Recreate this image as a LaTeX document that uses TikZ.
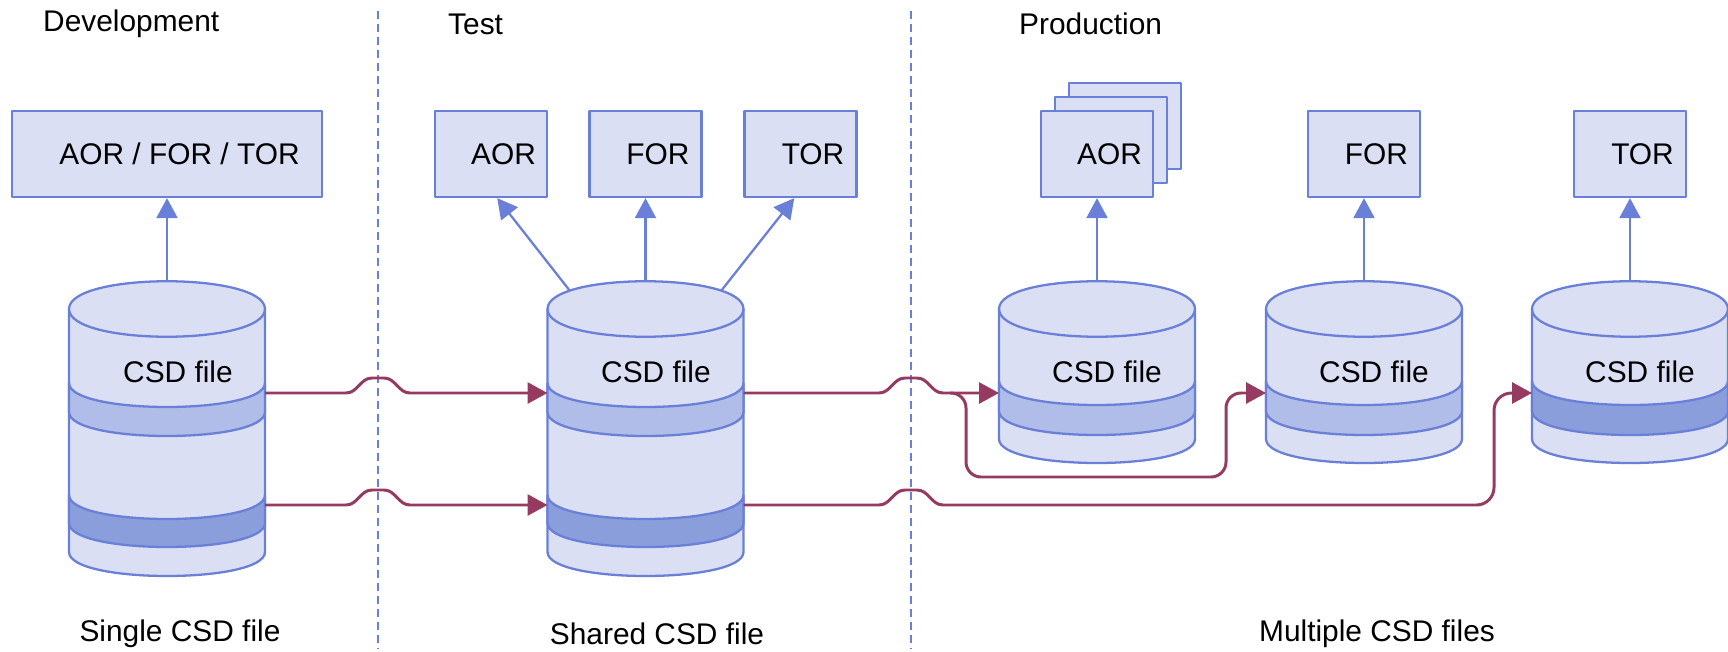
\documentclass[tikz,border=0pt]{standalone}
\usepackage{fontspec}
\setmainfont{Liberation Sans}
\usetikzlibrary{arrows.meta, positioning}
\definecolor{boxfill}{RGB}{218,223,243}
\definecolor{rimblue}{RGB}{106,128,216}
\definecolor{bandlight}{RGB}{176,189,232}
\definecolor{banddark}{RGB}{138,158,219}
\definecolor{flowred}{RGB}{149,59,98}

% cylinder body: #1 centre x, #2 y of the lower rim
\newcommand{\drum}[2]{%
  \filldraw[rim, fill=boxfill] (#1-98,309) -- (#1-98,#2)
    .. controls (#1-98,#2+32) and (#1+98,#2+32) .. (#1+98,#2)
    -- (#1+98,309) .. controls (#1+98,309-37) and (#1-98,309-37) .. cycle;
  \draw[rim] (#1-98,309) .. controls (#1-98,309+37) and (#1+98,309+37) .. (#1+98,309);
}
% band round a cylinder: #1 centre x, #2 upper y, #3 lower y, #4 colour
\newcommand{\band}[4]{%
  \filldraw[rim, fill=#4] (#1-98,#2) .. controls (#1-98,#2+32) and (#1+98,#2+32) .. (#1+98,#2)
    -- (#1+98,#3) .. controls (#1+98,#3+32) and (#1-98,#3+32) .. (#1-98,#3) -- cycle;
}

\begin{document}
\begin{tikzpicture}[x=0.02cm, y=-0.02cm, line join=round,
    >={Triangle[length=0.4cm, width=0.42cm]},
    font=\fontsize{17}{20}\selectfont,
    rim/.style={draw=rimblue, line width=1.3pt},
    box/.style={rim, fill=boxfill, minimum width=2.24cm, minimum height=1.72cm,
        execute at begin node=\hspace*{0.5cm}},
    up/.style={->, draw=rimblue, line width=1.3pt},
    flow/.style={->, draw=flowred, line width=1.7pt},
    divider/.style={draw=rimblue, line width=0.8pt, dash pattern=on 0.16cm off 0.1cm},
    hop/.style={insert path={to[out=0,in=180] ++(26,-15) -- ++(12,0) to[out=0,in=180] ++(26,15)}}]
    \useasboundingbox (0,0) rectangle (1728,652);

    % Stages
    \node[anchor=west] (dev) at (37,24) {Development};
    \node[anchor=west] (tst) at (442,24) {Test};
    \node[anchor=west] (prd) at (1013,24) {Production};
    \draw[divider] (378,11) -- (378,648);
    \draw[divider] (911,11) -- (911,648);

    % Regions
    \node[box, minimum width=6.2cm] (devbox) at (167,154) {AOR / FOR / TOR};
    \node[box] (tstaor) at (491,154) {AOR};
    \node[box] (tstfor) at (645.5,154) {FOR};
    \node[box] (tsttor) at (800.5,154) {TOR};
    \node[box] (prdaor3) at (1125,126) {};
    \node[box] (prdaor2) at (1111,140) {};
    \node[box] (prdaor) at (1097,154) {AOR};
    \node[box] (prdfor) at (1364,154) {FOR};
    \node[box] (prdtor) at (1630,154) {TOR};

    % CSD files
    \drum{167}{552}
    \band{167}{383}{412}{bandlight}
    \band{167}{495}{523}{banddark}
    \drum{645.5}{552}
    \band{645.5}{383}{412}{bandlight}
    \band{645.5}{495}{523}{banddark}
    \drum{1097}{439}
    \band{1097}{381}{411}{bandlight}
    \drum{1364}{439}
    \band{1364}{381}{411}{bandlight}
    \drum{1630}{439}
    \band{1630}{381}{411}{banddark}

    \node (devcsd) at (178,372) {CSD file};
    \node (tstcsd) at (656,372) {CSD file};
    \node (prdaorcsd) at (1107,372) {CSD file};
    \node (prdforcsd) at (1374,372) {CSD file};
    \node (prdtorcsd) at (1640,372) {CSD file};

    \coordinate (devtop) at (167,281);
    \coordinate (tsttop) at (645.5,281);
    \coordinate (tsttopl) at (570,291);
    \coordinate (tsttopr) at (721,291);
    \coordinate (prdaortop) at (1097,281);
    \coordinate (prdfortop) at (1364,281);
    \coordinate (prdtortop) at (1630,281);

    \coordinate (devR1) at (265,393);
    \coordinate (devR2) at (265,505);
    \coordinate (tstL1) at (547.5,393);
    \coordinate (tstL2) at (547.5,505);
    \coordinate (tstR1) at (743.5,393);
    \coordinate (tstR2) at (743.5,505);
    \coordinate (prdaorL) at (999,393);
    \coordinate (prdforL) at (1266,393);
    \coordinate (prdtorL) at (1532,393);
    \coordinate (split) at (950,393);

    % Reads
    \draw[up] (devtop) -- (devbox);
    \draw[up] (tsttopl) -- (tstaor.-82);
    \draw[up] (tsttop) -- (tstfor);
    \draw[up] (tsttopr) -- (tsttor.-98);
    \draw[up] (prdaortop) -- (prdaor);
    \draw[up] (prdfortop) -- (prdfor);
    \draw[up] (prdtortop) -- (prdtor);

    % Promotion
    \draw[flow] (devR1) -- (346,393) [hop] -- (tstL1);
    \draw[flow] (devR2) -- (346,505) [hop] -- (tstL2);
    \draw[flow] (tstR1) -- (879,393) [hop] -- (prdaorL);
    \draw[flow, rounded corners=0.3cm] (split) -| (966,477) -| (1226,393) -- (prdforL);
    \draw[flow] (tstR2) -- (879,505) [hop] [rounded corners=0.35cm] -| (1494,393) -- (prdtorL);

    % Captions
    \node (single) at (180,634) {Single CSD file};
    \node (shared) at (657,634) {Shared CSD file};
    \node (multi) at (1377,634) {Multiple CSD files};
\end{tikzpicture}
\end{document}
